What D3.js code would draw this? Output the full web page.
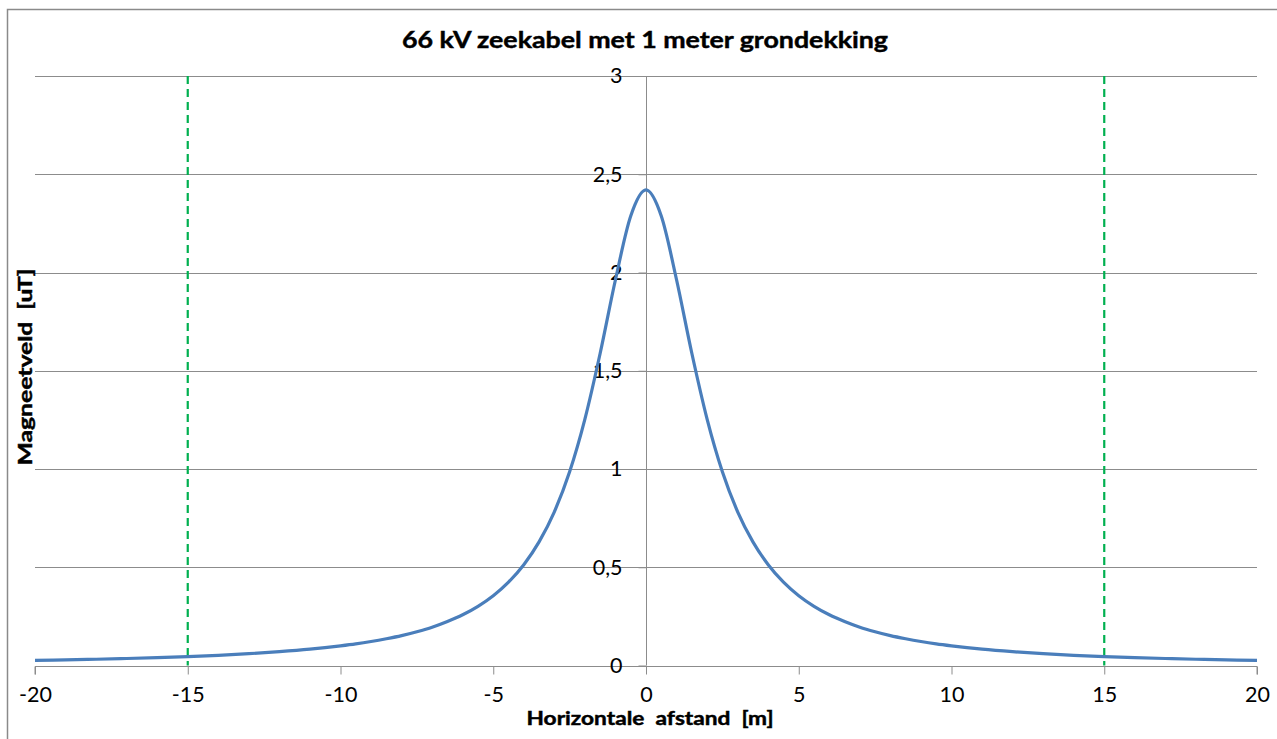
<!DOCTYPE html>
<html>
<head>
<meta charset="utf-8">
<script src="https://cdn.jsdelivr.net/npm/d3@7"></script>
<style>
  html, body { margin: 0; padding: 0; background: #fff; }
  svg { display: block; }
  text { font-family: Lato, "Open Sans", "Liberation Sans", sans-serif; fill: #000; }
  .heavy { stroke: #000; stroke-width: 0.45px; }
</style>
</head>
<body>
<svg id="chart" width="1277" height="739"></svg>
<script>
// ---- Data ----
const distances = [
  -20, -19, -18, -17, -16, -15, -14, -13, -12, -11, -10,
  -9.5, -9, -8.5, -8, -7.5, -7, -6.5, -6, -5.5, -5, -4.5, -4, -3.5, -3, -2.5, -2, -1.5, -1, -0.5,
  0,
  0.5, 1, 1.5, 2, 2.5, 3, 3.5, 4, 4.5, 5, 5.5, 6, 6.5, 7, 7.5, 8, 8.5, 9, 9.5,
  10, 11, 12, 13, 14, 15, 16, 17, 18, 19, 20
];
const fieldValues = [
  0.0257, 0.0285, 0.0317, 0.0355, 0.0400, 0.0454, 0.0520, 0.0600, 0.0702, 0.0830, 0.100,
  0.110, 0.122, 0.136, 0.152, 0.172, 0.195, 0.224, 0.258, 0.301, 0.355, 0.424, 0.513, 0.629, 0.782, 0.986, 1.254, 1.589, 1.963, 2.287,
  2.42,
  2.287, 1.963, 1.589, 1.254, 0.986, 0.782, 0.629, 0.513, 0.424, 0.355, 0.301, 0.258, 0.224, 0.195, 0.172, 0.152, 0.136, 0.122, 0.110,
  0.100, 0.0830, 0.0702, 0.0600, 0.0520, 0.0454, 0.0400, 0.0355, 0.0317, 0.0285, 0.0257
];
const xTicks = [-20, -15, -10, -5, 0, 5, 10, 15, 20];
const yTicks = [0, 0.5, 1, 1.5, 2, 2.5, 3];
const markerLines = [-15, 15];
const titleText = "66 kV zeekabel met 1 meter grondekking";
const xTitle = "Horizontale  afstand  [m]";
const yTitle = "Magneetveld  [uT]";

// ---- Layout ----
const svg = d3.select("#chart");
const x = d3.scaleLinear().domain([-20, 20]).range([35, 1257]);
const y = d3.scaleLinear().domain([0, 3]).range([665.5, 76]);
const gridColor = "#8c8c8c";
const fmt = v => String(v).replace(".", ",");

// outer chart border
svg.append("rect")
  .attr("x", 7.5).attr("y", 9.5).attr("width", 1290).attr("height", 760)
  .attr("fill", "none").attr("stroke", "#8a8a8a").attr("stroke-width", 1.5);

// horizontal gridlines
svg.append("g").selectAll("line")
  .data(yTicks.filter(d => d > 0))
  .join("line")
  .attr("x1", x(-20)).attr("x2", x(20))
  .attr("y1", d => Math.round(y(d)) + 0.5).attr("y2", d => Math.round(y(d)) + 0.5)
  .attr("stroke", gridColor).attr("stroke-width", 1);

// x axis (at y = 0)
const xAxis = d3.axisBottom(x).tickValues(xTicks).tickSize(8).tickPadding(12).tickFormat(fmt);
const gx = svg.append("g").attr("transform", `translate(0,${Math.round(y(0)) + 0.5})`).call(xAxis);
gx.select(".domain").attr("stroke", gridColor).attr("d", `M${x(-20)},8V0H${x(20)}V8`);
gx.selectAll(".tick line").attr("stroke", gridColor);
gx.selectAll(".tick text").attr("font-size", 21.5).attr("font-family", "Lato, sans-serif").attr("fill", "#000");

// y axis (at x = 0)
const yAxis = d3.axisLeft(y).tickValues(yTicks).tickSize(8).tickPadding(16).tickFormat(fmt);
const gy = svg.append("g").attr("transform", `translate(${Math.round(x(0)) + 0.5},0)`).call(yAxis);
gy.select(".domain").attr("stroke", gridColor).attr("d", `M0,${y(3)}V${y(0)}`);
gy.selectAll(".tick line").attr("stroke", gridColor);
gy.selectAll(".tick text").attr("font-size", 21.5).attr("font-family", "Lato, sans-serif").attr("fill", "#000");

// green dashed marker lines
svg.append("g").selectAll("line")
  .data(markerLines)
  .join("line")
  .attr("x1", d => x(d)).attr("x2", d => x(d))
  .attr("y1", y(3)).attr("y2", y(0))
  .attr("stroke", "#00b050").attr("stroke-width", 2.2)
  .attr("stroke-dasharray", "8,5");

// field curve
const pts = distances.map((d, i) => [d, fieldValues[i]]);
svg.append("path")
  .datum(pts)
  .attr("fill", "none")
  .attr("stroke", "#4a7ebb")
  .attr("stroke-width", 3.2)
  .attr("stroke-linejoin", "round")
  .attr("d", d3.line().x(d => x(d[0])).y(d => y(d[1])).curve(d3.curveMonotoneX));

// titles
svg.append("text")
  .attr("class", "heavy")
  .attr("x", 645).attr("y", 48)
  .attr("text-anchor", "middle")
  .attr("font-size", 23).attr("font-weight", "bold")
  .attr("textLength", 486).attr("lengthAdjust", "spacingAndGlyphs")
  .text(titleText);

svg.append("text")
  .attr("class", "heavy")
  .attr("x", 650).attr("y", 725)
  .attr("text-anchor", "middle")
  .attr("font-size", 18.5).attr("font-weight", "bold")
  .style("white-space", "pre")
  .attr("textLength", 247).attr("lengthAdjust", "spacingAndGlyphs")
  .text(xTitle);

svg.append("text")
  .attr("class", "heavy")
  .attr("transform", "translate(32,367) rotate(-90)")
  .attr("text-anchor", "middle")
  .attr("font-size", 18.5).attr("font-weight", "bold")
  .style("white-space", "pre")
  .attr("textLength", 197).attr("lengthAdjust", "spacingAndGlyphs")
  .text(yTitle);
</script>
</body>
</html>
